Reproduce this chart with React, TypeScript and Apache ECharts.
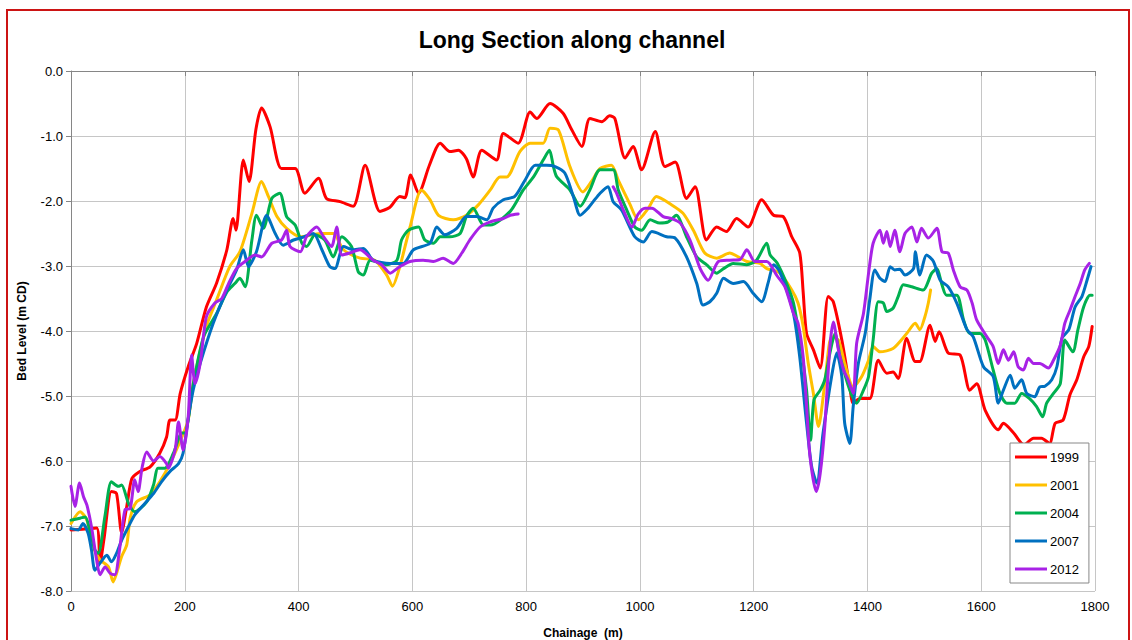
import React, { useEffect, useRef } from "react";
import * as echarts from "echarts";

const seriesNames = ["1999", "2001", "2004", "2007", "2012"];
const seriesColors = ["#FF0000", "#FFC000", "#00B050", "#0070C0", "#A822E6"];
const xTicks = { min: 0, max: 1800, interval: 200 };
const yTicks = { min: -8, max: 0, interval: 1 };

const s1999: [number, number][] = [
  [0,-7.06],[20,-7.05],[45,-7.03],[51,-7.57],[58,-7.2],[71,-6.47],[80,-6.5],[89,-7.1],[98,-6.7],[107,-6.27],[121,-6.16],[139,-6.09],[156,-5.88],[168,-5.63],[174,-5.37],[183,-5.37],[192,-4.96],[206,-4.55],[221,-4.19],[238,-3.63],[256,-3.26],[274,-2.75],[285,-2.27],[290,-2.45],[303,-1.37],[313,-1.70],[325,-0.9],[335,-0.57],[350,-0.86],[370,-1.50],[394,-1.50],[411,-1.88],[435,-1.65],[449,-1.96],[473,-2.01],[496,-2.08],[517,-1.45],[543,-2.16],[560,-2.10],[578,-1.93],[587,-1.95],[597,-1.60],[611,-1.88],[630,-1.45],[649,-1.11],[666,-1.24],[681,-1.22],[695,-1.35],[707,-1.63],[722,-1.22],[748,-1.37],[760,-0.96],[786,-1.11],[807,-0.63],[819,-0.73],[842,-0.50],[865,-0.65],[880,-0.9],[898,-1.16],[912,-0.73],[933,-0.78],[947,-0.69],[956,-0.73],[974,-1.34],[988,-1.16],[1003,-1.52],[1027,-0.93],[1044,-1.47],[1062,-1.40],[1082,-1.96],[1097,-1.78],[1117,-2.60],[1135,-2.40],[1152,-2.47],[1170,-2.27],[1190,-2.40],[1214,-1.98],[1235,-2.22],[1252,-2.24],[1267,-2.55],[1281,-2.80],[1287,-3.40],[1293,-4.04],[1305,-4.29],[1317,-4.57],[1331,-3.47],[1340,-3.55],[1355,-4.14],[1369,-4.86],[1375,-5.11],[1387,-5.04],[1404,-5.04],[1419,-4.45],[1434,-4.65],[1445,-4.63],[1454,-4.73],[1469,-4.11],[1484,-4.47],[1492,-4.47],[1510,-3.91],[1519,-4.16],[1526,-4.01],[1542,-4.34],[1563,-4.37],[1580,-4.91],[1592,-4.81],[1607,-5.22],[1630,-5.52],[1639,-5.42],[1657,-5.57],[1675,-5.75],[1692,-5.65],[1706,-5.65],[1720,-5.73],[1730,-5.42],[1744,-5.37],[1756,-4.98],[1768,-4.75],[1780,-4.40],[1789,-4.24],[1795,-3.93]
];

const s2001: [number, number][] = [
  [0,-6.96],[16,-6.78],[28,-6.91],[39,-7.32],[51,-7.52],[66,-7.63],[74,-7.86],[80,-7.73],[89,-7.47],[98,-7.29],[104,-6.88],[115,-6.63],[139,-6.52],[156,-6.32],[174,-6.04],[195,-5.63],[206,-5.37],[215,-4.81],[238,-3.93],[256,-3.52],[279,-3.01],[297,-2.78],[318,-2.19],[335,-1.70],[347,-1.93],[362,-2.24],[379,-2.42],[403,-2.55],[438,-2.50],[461,-2.50],[479,-2.75],[508,-2.88],[534,-2.91],[555,-3.14],[565,-3.31],[578,-3.01],[596,-2.40],[616,-1.83],[631,-1.98],[646,-2.22],[672,-2.29],[695,-2.22],[716,-2.06],[737,-1.83],[754,-1.63],[766,-1.63],[789,-1.24],[807,-1.11],[830,-1.11],[842,-0.88],[857,-0.91],[877,-1.47],[900,-1.86],[915,-1.70],[930,-1.50],[950,-1.45],[962,-1.68],[982,-2.04],[997,-2.29],[1015,-2.11],[1029,-1.93],[1056,-2.06],[1076,-2.19],[1094,-2.45],[1114,-2.80],[1135,-2.88],[1158,-2.80],[1173,-2.86],[1188,-2.93],[1211,-2.96],[1223,-3.04],[1245,-3.1],[1267,-3.37],[1278,-3.57],[1287,-3.93],[1296,-4.50],[1305,-4.96],[1314,-5.47],[1325,-4.81],[1337,-4.09],[1349,-4.14],[1360,-4.50],[1375,-4.86],[1390,-4.70],[1402,-4.45],[1410,-4.24],[1422,-4.32],[1445,-4.27],[1469,-4.04],[1484,-3.88],[1492,-3.98],[1501,-3.78],[1507,-3.57],[1511,-3.37]
];

const s2004: [number, number][] = [
  [0,-6.91],[16,-6.88],[25,-6.86],[33,-7.06],[42,-7.37],[48,-7.42],[60,-6.83],[71,-6.32],[83,-6.39],[89,-6.37],[101,-6.65],[112,-6.78],[133,-6.63],[145,-6.37],[153,-6.11],[165,-6.11],[180,-5.88],[195,-5.57],[200,-5.57],[215,-4.81],[233,-4.09],[256,-3.73],[274,-3.40],[288,-3.27],[297,-3.19],[306,-3.32],[318,-2.60],[326,-2.22],[338,-2.42],[353,-1.96],[367,-1.88],[379,-2.24],[394,-2.37],[406,-2.65],[414,-2.70],[429,-2.52],[446,-2.60],[461,-2.86],[476,-2.55],[493,-2.70],[505,-3.09],[514,-3.14],[526,-2.91],[555,-2.98],[573,-2.91],[581,-2.60],[593,-2.45],[611,-2.40],[622,-2.60],[637,-2.65],[649,-2.55],[666,-2.55],[684,-2.50],[695,-2.24],[707,-2.11],[725,-2.37],[737,-2.37],[772,-2.16],[795,-1.83],[813,-1.63],[830,-1.37],[841,-1.22],[848,-1.47],[854,-1.63],[877,-1.83],[895,-2.08],[912,-1.83],[930,-1.52],[953,-1.52],[962,-1.83],[977,-2.14],[991,-2.40],[1003,-2.45],[1018,-2.29],[1035,-2.34],[1050,-2.32],[1064,-2.22],[1082,-2.55],[1100,-2.86],[1117,-2.98],[1135,-3.11],[1147,-3.04],[1164,-2.96],[1188,-2.98],[1205,-2.91],[1223,-2.65],[1229,-2.83],[1241,-2.95],[1258,-3.27],[1270,-3.57],[1284,-4.29],[1293,-4.91],[1300,-5.68],[1306,-5.06],[1317,-4.91],[1325,-4.75],[1334,-4.34],[1343,-4.04],[1352,-4.40],[1369,-4.91],[1381,-5.11],[1393,-4.91],[1402,-4.70],[1410,-4.14],[1419,-3.55],[1428,-3.57],[1434,-3.70],[1445,-3.65],[1454,-3.47],[1463,-3.29],[1478,-3.32],[1498,-3.37],[1513,-3.11],[1522,-3.04],[1531,-3.29],[1539,-3.45],[1557,-3.45],[1569,-3.83],[1580,-4.04],[1598,-4.04],[1607,-4.14],[1621,-4.60],[1633,-4.96],[1645,-5.11],[1659,-5.11],[1671,-4.96],[1685,-5.04],[1697,-5.16],[1708,-5.32],[1715,-5.11],[1727,-4.96],[1739,-4.81],[1747,-4.14],[1761,-4.32],[1770,-3.98],[1780,-3.63],[1791,-3.45],[1795,-3.45]
];

const s2007: [number, number][] = [
  [0,-7.04],[13,-7.06],[21,-6.96],[30,-7.11],[36,-7.37],[42,-7.68],[51,-7.57],[63,-7.45],[71,-7.55],[80,-7.42],[89,-7.22],[101,-7.01],[112,-6.83],[127,-6.68],[145,-6.50],[159,-6.32],[174,-6.16],[189,-6.04],[197,-5.88],[206,-5.35],[215,-4.9],[227,-4.50],[250,-3.88],[274,-3.37],[291,-3.06],[303,-2.75],[312,-3.01],[326,-2.78],[344,-2.22],[359,-2.50],[373,-2.68],[391,-2.60],[410,-2.55],[426,-2.50],[441,-2.75],[455,-3.01],[464,-3.04],[479,-2.70],[497,-2.75],[514,-2.73],[531,-2.91],[561,-2.96],[584,-2.96],[602,-2.75],[631,-2.65],[643,-2.40],[657,-2.52],[678,-2.42],[695,-2.24],[713,-2.24],[731,-2.29],[742,-2.11],[760,-1.98],[780,-1.93],[798,-1.68],[816,-1.45],[836,-1.45],[851,-1.47],[868,-1.57],[883,-1.93],[895,-2.22],[909,-2.11],[918,-2.01],[930,-1.88],[944,-1.78],[953,-2.01],[968,-2.14],[991,-2.55],[1006,-2.63],[1021,-2.47],[1047,-2.55],[1062,-2.57],[1082,-2.86],[1100,-3.27],[1111,-3.60],[1123,-3.55],[1135,-3.42],[1147,-3.19],[1164,-3.27],[1182,-3.24],[1199,-3.42],[1214,-3.55],[1226,-3.24],[1235,-2.98],[1244,-3.06],[1258,-3.37],[1270,-3.73],[1281,-4.40],[1293,-5.42],[1302,-6.09],[1311,-6.34],[1322,-5.57],[1337,-4.70],[1346,-4.34],[1355,-4.70],[1360,-5.42],[1369,-5.73],[1375,-5.16],[1384,-4.50],[1396,-4.04],[1404,-3.52],[1413,-3.06],[1422,-3.19],[1431,-3.24],[1440,-3.01],[1448,-3.06],[1457,-3.05],[1466,-3.14],[1481,-3.04],[1484,-2.78],[1492,-3.14],[1504,-2.83],[1516,-2.93],[1528,-3.22],[1542,-3.32],[1557,-3.57],[1575,-3.98],[1586,-4.09],[1604,-4.55],[1621,-4.70],[1630,-5.11],[1639,-4.91],[1651,-4.68],[1659,-4.88],[1671,-4.75],[1680,-4.96],[1694,-5.01],[1703,-4.86],[1712,-4.85],[1724,-4.75],[1733,-4.55],[1742,-4.11],[1754,-3.98],[1765,-3.63],[1777,-3.47],[1786,-3.22],[1793,-3.01]
];

const s2012: [number, number | string][] = [
  [0,-6.39],[7,-6.70],[15,-6.34],[22,-6.55],[28,-6.68],[36,-7.01],[45,-7.52],[51,-7.75],[60,-7.63],[69,-7.73],[77,-7.75],[86,-7.32],[95,-6.75],[104,-6.73],[112,-6.29],[118,-6.47],[125,-6.1],[133,-5.86],[145,-6.0],[156,-5.93],[168,-6.04],[171,-6.11],[183,-5.83],[189,-5.40],[197,-5.83],[206,-5.32],[212,-4.37],[218,-4.81],[227,-4.50],[238,-3.78],[253,-3.57],[265,-3.50],[277,-3.27],[291,-3.04],[309,-2.91],[323,-2.83],[335,-2.86],[353,-2.65],[370,-2.60],[379,-2.45],[385,-2.70],[403,-2.78],[414,-2.55],[432,-2.40],[444,-2.55],[458,-2.70],[467,-2.40],[476,-2.83],[490,-2.80],[508,-2.75],[531,-2.91],[546,-2.98],[561,-3.11],[578,-3.01],[596,-2.93],[619,-2.91],[637,-2.93],[654,-2.88],[672,-2.96],[687,-2.80],[701,-2.60],[719,-2.40],[737,-2.32],[760,-2.27],[772,-2.22],[786,-2.20],[870,"-"],[953,-1.78],[959,-1.88],[971,-2.14],[986,-2.40],[997,-2.2],[1009,-2.11],[1021,-2.11],[1041,-2.24],[1056,-2.27],[1071,-2.34],[1088,-2.60],[1106,-3.04],[1120,-3.22],[1138,-2.93],[1158,-2.91],[1176,-2.90],[1188,-2.75],[1202,-2.93],[1223,-2.93],[1241,-3.15],[1255,-3.32],[1270,-3.73],[1278,-3.88],[1287,-4.40],[1293,-5.16],[1299,-5.93],[1310,-6.47],[1317,-6.19],[1325,-5.47],[1334,-4.24],[1340,-3.86],[1349,-4.29],[1358,-4.60],[1366,-4.75],[1375,-4.96],[1381,-4.19],[1393,-3.73],[1402,-3.11],[1410,-2.65],[1422,-2.45],[1428,-2.65],[1434,-2.47],[1440,-2.70],[1448,-2.45],[1457,-2.78],[1466,-2.50],[1478,-2.40],[1487,-2.63],[1495,-2.42],[1507,-2.57],[1522,-2.42],[1531,-2.78],[1542,-2.80],[1551,-3.06],[1563,-3.32],[1575,-3.37],[1584,-3.57],[1592,-3.83],[1610,-4.09],[1621,-4.24],[1630,-4.50],[1639,-4.29],[1648,-4.45],[1657,-4.32],[1665,-4.55],[1674,-4.60],[1683,-4.42],[1692,-4.50],[1703,-4.50],[1718,-4.57],[1727,-4.45],[1739,-4.22],[1747,-3.88],[1756,-3.68],[1765,-3.47],[1774,-3.27],[1782,-3.06],[1790,-2.96]
];

const seriesData = [s1999, s2001, s2004, s2007, s2012];

const FONT = "Liberation Sans";

export default function App() {
  const ref = useRef<HTMLDivElement>(null);
  useEffect(() => {
    document.body.style.margin = "0";
    const chart = echarts.init(ref.current!, null, { renderer: "svg" });
    chart.setOption({
      animation: false,
      backgroundColor: "#ffffff",
      textStyle: { fontFamily: FONT },
      grid: { left: 71, right: 37, top: 71, bottom: 49, outerBoundsMode: "none", containLabel: false },
      graphic: [
        {
          type: "rect",
          shape: { x: 7, y: 10, width: 1122, height: 700 },
          style: { fill: "none", stroke: "#CC1414", lineWidth: 2 },
          silent: true,
          z: 100,
        },
        {
          type: "text",
          x: 572,
          y: 40,
          style: {
            text: "Long Section along channel",
            fontFamily: FONT,
            fontWeight: "bold",
            fontSize: 23,
            fill: "#000000",
            textAlign: "center",
            textVerticalAlign: "middle",
          },
        },
      ],
      legend: {
        orient: "vertical",
        left: 1010,
        top: 443,
        padding: [7, 10, 7, 5],
        icon: "rect",
        itemWidth: 32,
        itemHeight: 3,
        itemGap: 14,
        backgroundColor: "#ffffff",
        borderColor: "#888888",
        borderWidth: 1,
        z: 10,
        textStyle: {
          fontFamily: FONT,
          fontSize: 13,
          lineHeight: 14,
          color: "#000000",
          padding: [0, 0, 0, -2],
        },
        data: seriesNames,
      },
      xAxis: {
        type: "value",
        min: xTicks.min,
        max: xTicks.max,
        interval: xTicks.interval,
        name: "Chainage  (m)",
        nameLocation: "middle",
        nameGap: 36,
        nameTextStyle: { fontFamily: FONT, fontWeight: "bold", fontSize: 12, color: "#000" },
        axisLine: { show: true, lineStyle: { color: "#868686", width: 1 } },
        axisTick: { show: true, length: 5, lineStyle: { color: "#868686" } },
        axisLabel: {
          fontFamily: FONT,
          fontSize: 13,
          color: "#000",
          margin: 9,
          formatter: (v: number) => String(v),
        },
        splitLine: { show: true, lineStyle: { color: "#c6c6c6", width: 1 } },
      },
      yAxis: {
        type: "value",
        min: yTicks.min,
        max: yTicks.max,
        interval: yTicks.interval,
        name: "Bed Level (m CD)",
        nameLocation: "middle",
        nameGap: 43,
        nameTextStyle: { fontFamily: FONT, fontWeight: "bold", fontSize: 12, color: "#000" },
        axisLine: { show: true, lineStyle: { color: "#868686", width: 1 } },
        axisTick: { show: true, length: 5, lineStyle: { color: "#868686" } },
        axisLabel: {
          fontFamily: FONT,
          fontSize: 13,
          color: "#000",
          margin: 8,
          formatter: (v: number) => v.toFixed(1),
        },
        splitLine: { show: true, lineStyle: { color: "#c6c6c6", width: 1 } },
      },
      series: seriesNames.map((name, i) => ({
        name,
        type: "line",
        data: seriesData[i],
        symbol: "none",
        smooth: 0.25,
        connectNulls: false,
        color: seriesColors[i],
        itemStyle: { color: seriesColors[i] },
        lineStyle: { width: 3, color: seriesColors[i], cap: "round", join: "round" },
        z: 2 + i,
      })),
    });
    return () => chart.dispose();
  }, []);
  return (
    <div
      ref={ref}
      style={{ position: "fixed", left: 0, top: 0, width: 1132, height: 640 }}
    />
  );
}
